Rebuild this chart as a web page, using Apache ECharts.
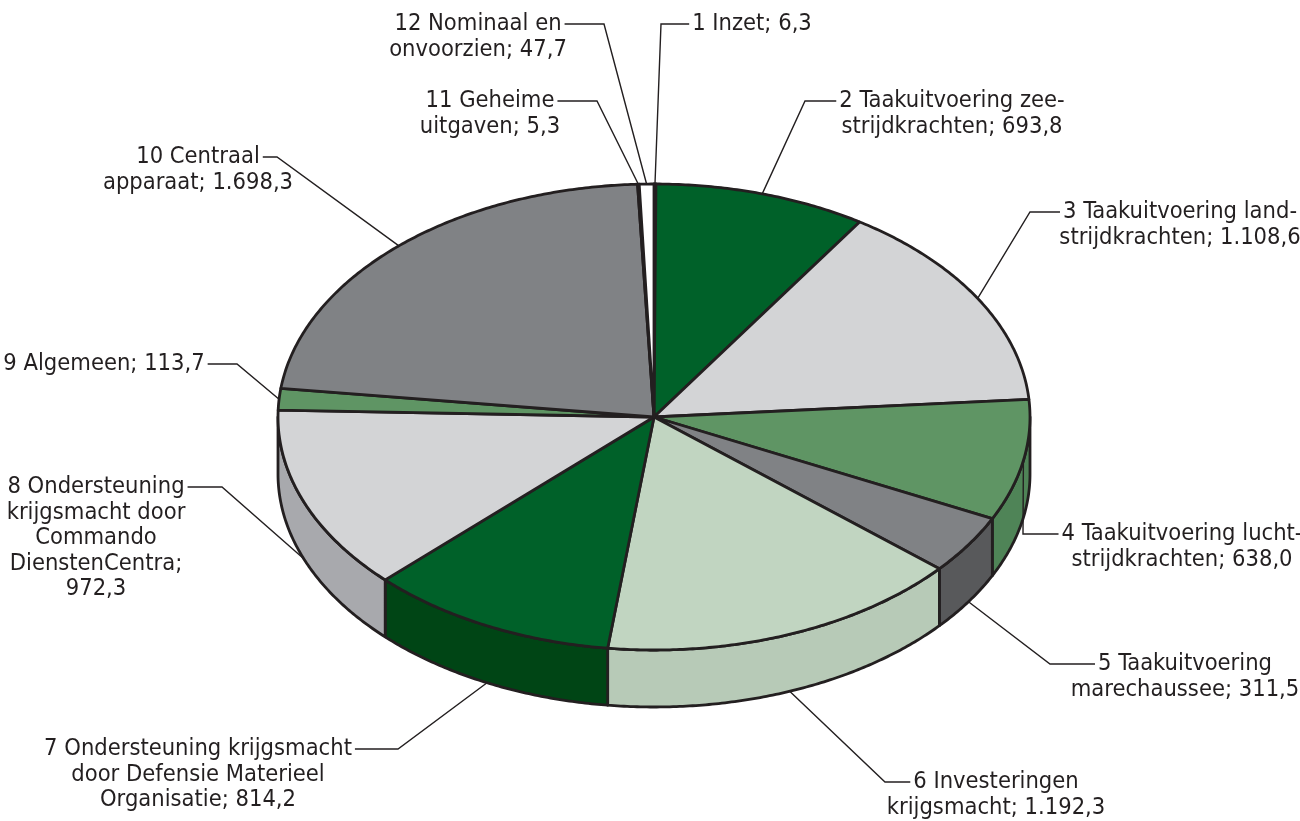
<!DOCTYPE html>
<html><head><meta charset="utf-8">
<script src="https://cdn.jsdelivr.net/npm/echarts@6/dist/echarts.min.js"></script>
<style>html,body{margin:0;padding:0;background:#fff}#c{width:1300px;height:821px}</style>
</head><body><div id="c"></div>
<script>
// ---- data ----
const categories = [
  '1 Inzet',
  '2 Taakuitvoering zee-\nstrijdkrachten',
  '3 Taakuitvoering land-\nstrijdkrachten',
  '4 Taakuitvoering lucht-\nstrijdkrachten',
  '5 Taakuitvoering\nmarechaussee',
  '6 Investeringen\nkrijgsmacht',
  '7 Ondersteuning krijgsmacht\ndoor Defensie Materieel\nOrganisatie',
  '8 Ondersteuning\nkrijgsmacht door\nCommando\nDienstenCentra',
  '9 Algemeen',
  '10 Centraal\napparaat',
  '11 Geheime\nuitgaven',
  '12 Nominaal en\nonvoorzien'
];
const values = [6.3, 693.8, 1108.6, 638.0, 311.5, 1192.3, 814.2, 972.3, 113.7, 1698.3, 5.3, 47.7];

// ---- styles / layout ----
const topColors  = ['#ffffff','#006129','#d3d4d6','#5f9564','#808285','#c1d5c1','#006129','#d3d4d6','#5f9564','#808285','#c1d5c1','#ffffff'];
const wallColors = ['#e6e6e6','#004515','#a8a9ad','#4f8457','#58595b','#b7cab7','#004515','#a8a9ad','#4f8457','#58595b','#b7cab7','#e6e6e6'];
const EDGE = '#231f20';
const FONT_SIZE = 23.5, FONT_FAMILY = "'Liberation Sans Narrow','DejaVu Sans Condensed',sans-serif";
const FONT = FONT_SIZE + 'px ' + FONT_FAMILY;
const LH = 25.5;
const G = {cx:654, cy:417, rx:376, ry:233, depth:57, start:0};
// label placement: cx = text block centre, y = first line centre, ex = leader elbow x, side = where label sits
const labelLayout = [
  {cx:752,  y:24,  ex:661,  side:'R', attach:'top', sep:' '},
  {cx:952,  y:101, ex:805,  side:'R', attach:'top', sep:' '},
  {cx:1180, y:212, ex:1030, side:'R', attach:'top', sep:' '},
  {cx:1182, y:534, ex:1023, side:'R', attach:'top', sep:' '},
  {cx:1185, y:664, ex:1050, side:'R', attach:'bottom', sep:' '},
  {cx:996,  y:782, ex:885,  side:'R', attach:'bottom', sep:' '},
  {cx:198,  y:749, ex:398,  side:'L', attach:'bottom', sep:' '},
  {cx:96,   y:487, ex:222,  side:'L', attach:'bottom', sep:'\n'},
  {cx:104,  y:364, ex:237,  side:'L', attach:'top', sep:' '},
  {cx:198,  y:157, ex:277,  side:'L', attach:'top', sep:' '},
  {cx:490,  y:101, ex:597,  side:'L', attach:'top', sep:' '},
  {cx:478,  y:24,  ex:604,  side:'L', attach:'top', sep:' '}
];

function fmt(v){
  const p = v.toFixed(1).split('.');
  const ip = p[0].replace(/\B(?=(\d{3})+(?!\d))/g, '.');
  return ip + ',' + p[1];
}
const total = values.reduce((a,b)=>a+b,0);
const cum = []; (function(){let s=0; values.forEach(v=>{cum.push(s); s+=v;});})();

function pt(deg, dy){ const r = deg*Math.PI/180; return [G.cx + G.rx*Math.sin(r), G.cy - G.ry*Math.cos(r) + (dy||0)]; }
function arc(a0, a1, dy){ const n = Math.max(2, Math.ceil(Math.abs(a1-a0)/0.5)); const out=[]; for(let i=0;i<=n;i++) out.push(pt(a0+(a1-a0)*i/n, dy)); return out; }
const mctx = document.createElement('canvas').getContext('2d');
function measure(t){ mctx.font = FONT; return mctx.measureText(t).width; }

function renderItem(params, api){
  const i = params.dataIndex;
  const v = api.value(0);
  const a0 = G.start + cum[i]/total*360;
  const a1 = a0 + v/total*360;
  const children = [];
  const w0 = Math.max(a0, 90), w1 = Math.min(a1, 270);
  if (w1 > w0) {
    children.push({type:'polygon', z2:1, shape:{points: arc(w0,w1,0).concat(arc(w1,w0,G.depth))},
      style:{fill: wallColors[i], stroke: EDGE, lineWidth: 2.8, lineJoin:'round'}});
  }
  children.push({type:'polygon', z2:2, shape:{points: [[G.cx,G.cy]].concat(arc(a0,a1,0))},
    style:{fill: topColors[i], stroke: EDGE, lineWidth: 2.8, lineJoin:'round'}});
  const L = labelLayout[i];
  const mid = (a0+a1)/2;
  const p = pt(mid, L.attach === 'bottom' ? G.depth : 0);
  const text = categories[i] + ';' + L.sep + fmt(v);
  const lines = text.split('\n');
  const wl = measure(lines[0]);
  const sx = L.side === 'R' ? L.cx - wl/2 - 3 : L.cx + wl/2 + 3;
  children.push({type:'polyline', z2:3, shape:{points:[[sx,L.y],[L.ex,L.y],p]},
    style:{stroke: EDGE, lineWidth: 1.4, fill: null}});
  children.push({type:'text', z2:4, x: L.cx, y: L.y - LH/2,
    style:{text: text, font: FONT, fill: EDGE, align:'center', verticalAlign:'top', lineHeight: LH}});
  return {type:'group', children: children};
}

const chart = echarts.init(document.getElementById('c'), null, {renderer:'canvas'});
chart.setOption({
  animation: false,
  backgroundColor: '#ffffff',
  series: [{
    type: 'custom',
    coordinateSystem: 'none',
    renderItem: renderItem,
    data: values.map(v => [v])
  }]
});
</script>
</body></html>
